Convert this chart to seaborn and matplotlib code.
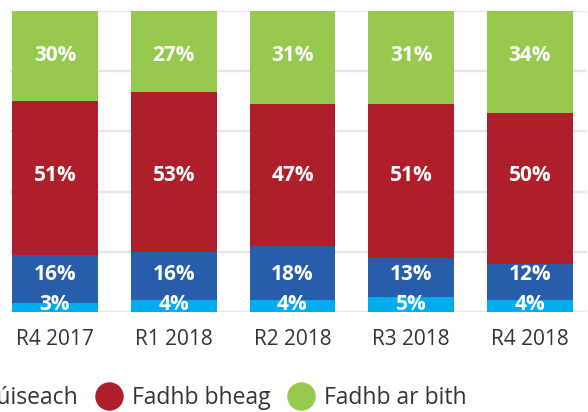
import matplotlib
matplotlib.use("Agg")
import matplotlib.pyplot as plt
from matplotlib.lines import Line2D
import seaborn as sns
import numpy as np
import pandas as pd

categories = ["R4 2017", "R1 2018", "R2 2018", "R3 2018", "R4 2018"]
series_names = ["Fadhb an-tromchúiseach", "Fadhb thromchúiseach", "Fadhb bheag", "Fadhb ar bith"]
very_serious = [3, 4, 4, 5, 4]
serious = [16, 16, 18, 13, 12]
small = [51, 53, 47, 51, 50]
none_ = [30, 27, 31, 31, 34]
colors = ["#00AEEF", "#275DAB", "#AE1E2B", "#97C94F"]

# layout: baseline height (axis units) of each series' label row
label_rows = [0.66, 10.6, 43.6, 83.5]

sns.set_theme(style="white")
plt.rcParams["font.family"] = ["Open Sans", "DejaVu Sans"]

W, H = 588, 412
fig = plt.figure(figsize=(W / 100, H / 100), dpi=100)
ax = fig.add_axes([10 / W, (H - 312) / H, 577 / W, 301 / H])

layers = [very_serious, serious, small, none_]
cum = np.cumsum(np.array(layers), axis=0)

# draw from top layer (largest cumulative) down
for k in range(len(layers) - 1, -1, -1):
    df = pd.DataFrame({"cat": categories, "val": cum[k]})
    sns.barplot(data=df, x="cat", y="val", color=colors[k], saturation=1,
                width=0.724, linewidth=0, ax=ax, order=categories, zorder=2)

for k, vals in enumerate(layers):
    for i, v in enumerate(vals):
        ax.text(i, label_rows[k], f"{v}%", ha="center", va="baseline",
                color="white", fontsize=15, fontweight="bold", zorder=3)

ax.set_xlim((10 - 55) / 118.75, (587 - 55) / 118.75)
ax.set_ylim(0, 100)
ax.set_yticks([0, 20, 40, 60, 80, 100])
ax.yaxis.grid(True, color="#E6E6E6", linewidth=1.7)
ax.set_axisbelow(True)
ax.set_yticklabels([])
ax.tick_params(axis="y", length=0)
ax.tick_params(axis="x", length=0, pad=12.5, labelsize=15, labelcolor="#333333")
ax.set_xlabel("")
ax.set_ylabel("")
for s in ax.spines.values():
    s.set_visible(False)

handles = [Line2D([0], [0], marker="o", linestyle="none", markersize=20.5,
                  markerfacecolor=c, markeredgewidth=0) for c in colors]
leg = fig.legend(handles, series_names, loc="center right",
                 bbox_to_anchor=(467 / W, 1 - 398 / H), ncol=4, frameon=False,
                 fontsize=16.5, handlelength=1.3, handletextpad=0.35,
                 columnspacing=0.7, borderpad=0, borderaxespad=0)
for t in leg.get_texts():
    t.set_color("#333333")

fig.savefig("out.png", dpi=100)
